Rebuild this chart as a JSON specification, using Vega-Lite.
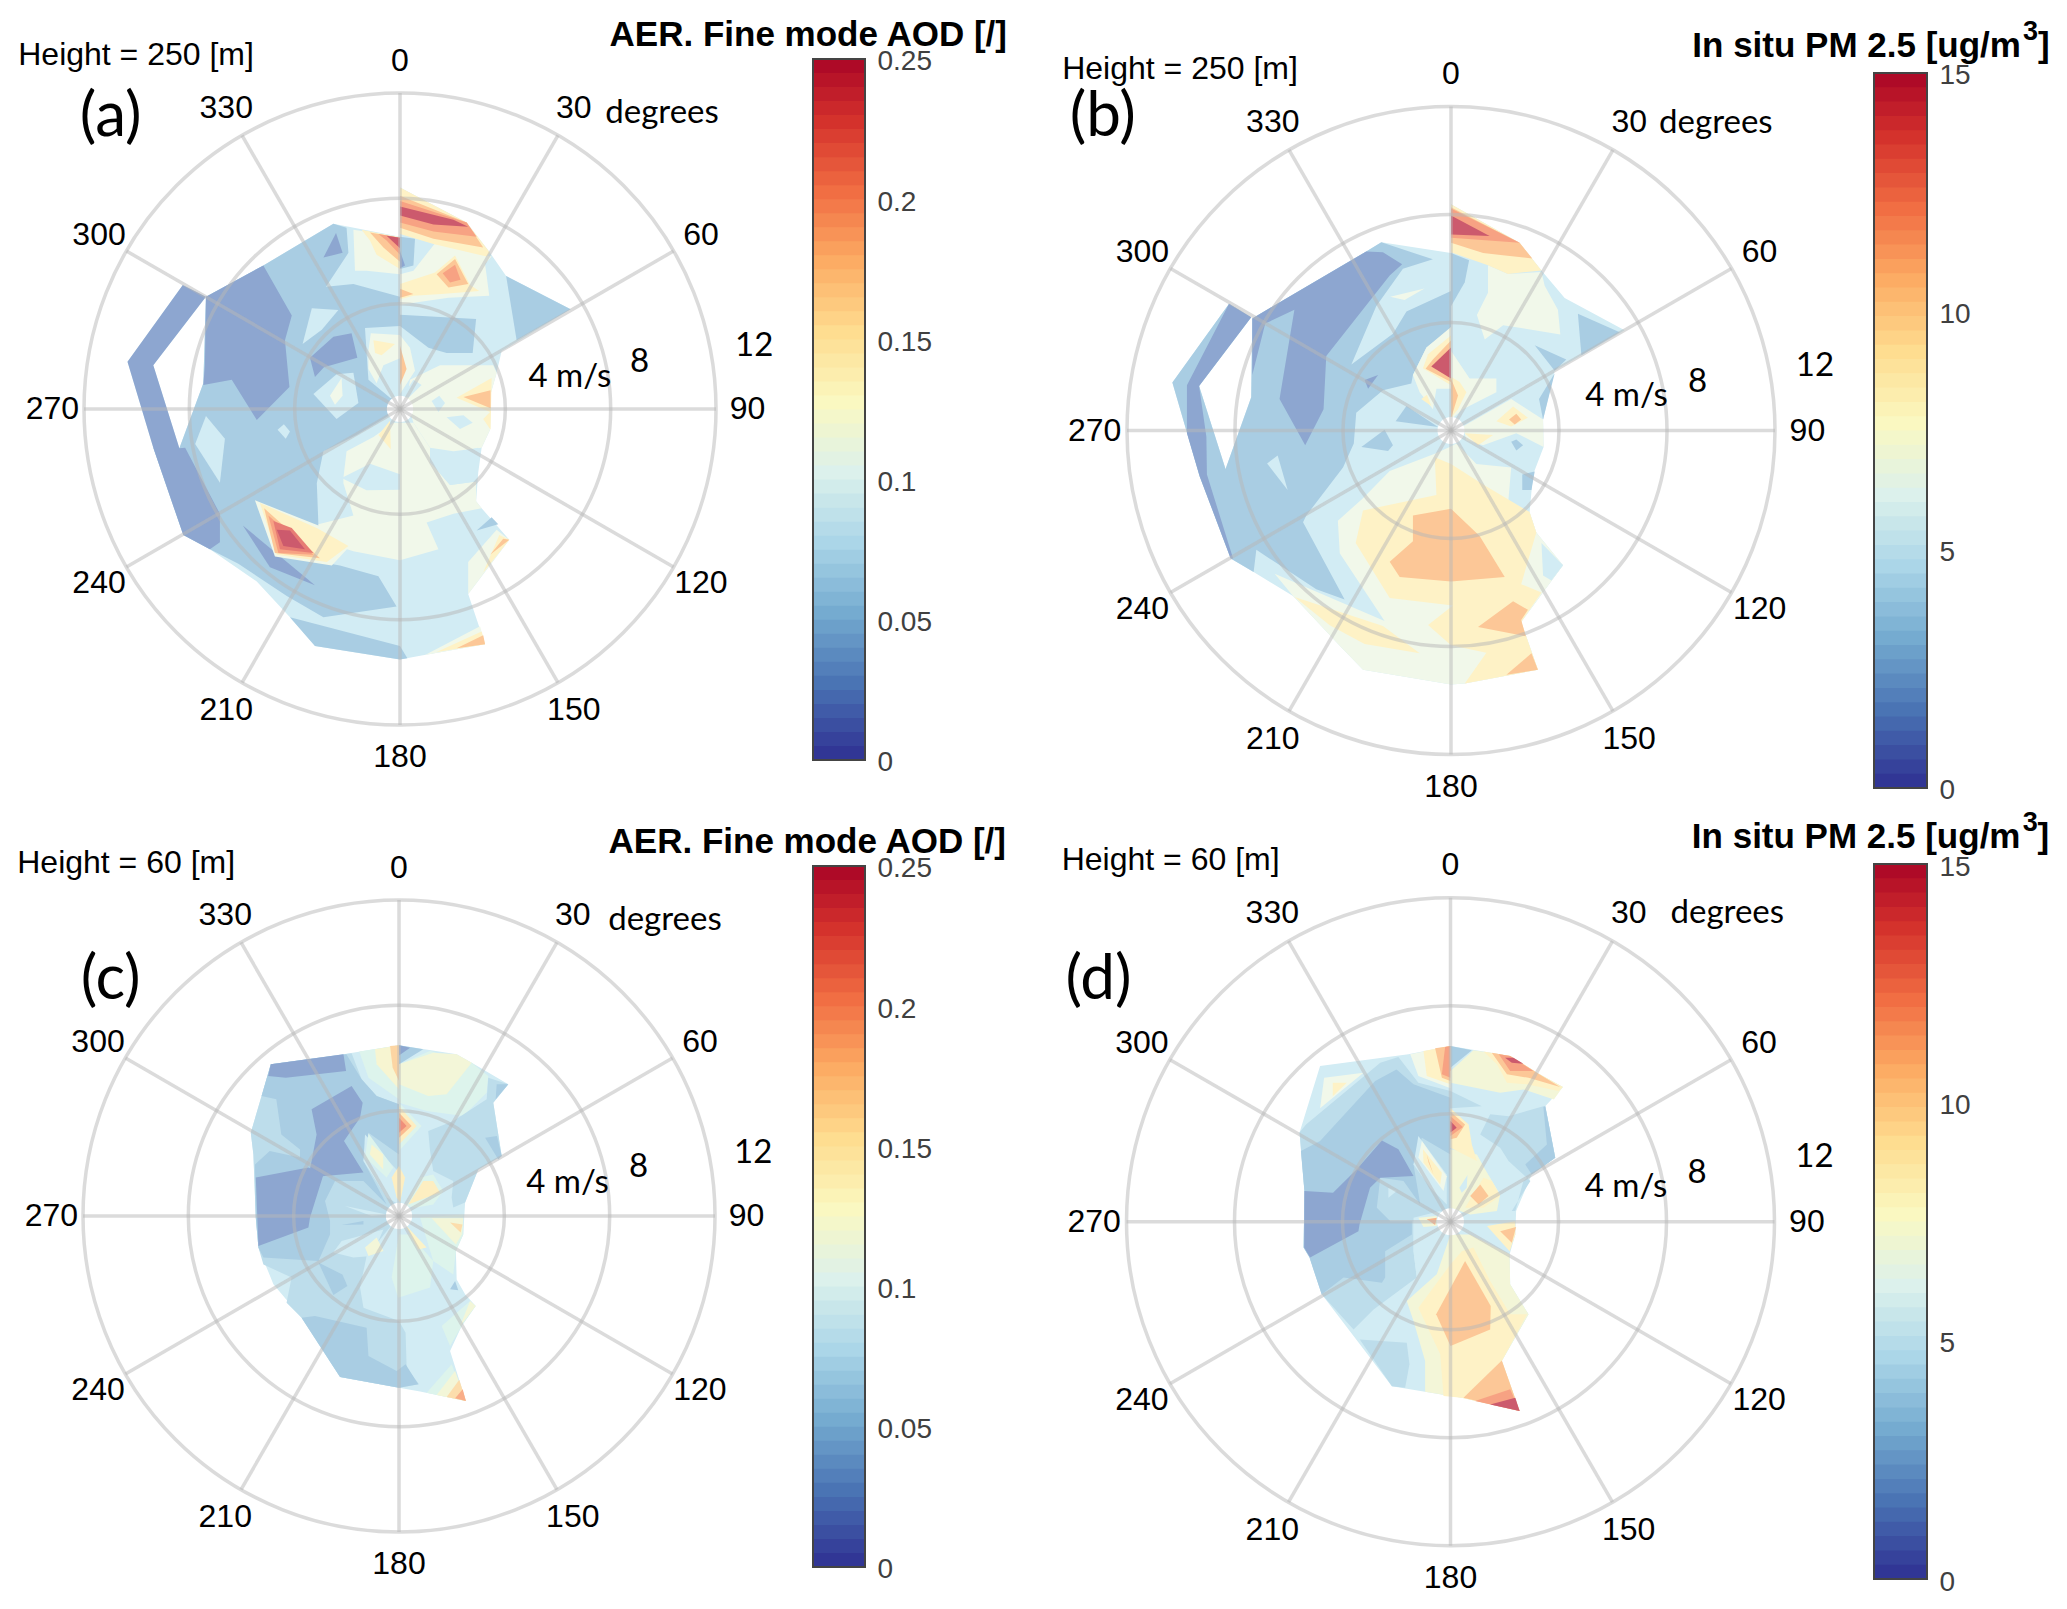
{"$schema":"https://vega.github.io/schema/vega-lite/v6.json","padding":0,"background":"white","columns":4,"spacing":0,"bounds":"flush","config":{"view":{"stroke":null},"text":{"font":"Liberation Sans"}},"resolve":{"scale":{"color":"independent","size":"independent","y":"independent","x":"independent"}},
"datasets":{
"spokes":[{"type":"Feature","geometry":{"type":"LineString","coordinates":[[0,0],[0,12]]}},{"type":"Feature","geometry":{"type":"LineString","coordinates":[[0,0],[6,10.39]]}},{"type":"Feature","geometry":{"type":"LineString","coordinates":[[0,0],[10.39,6]]}},{"type":"Feature","geometry":{"type":"LineString","coordinates":[[0,0],[12,0]]}},{"type":"Feature","geometry":{"type":"LineString","coordinates":[[0,0],[10.39,-6]]}},{"type":"Feature","geometry":{"type":"LineString","coordinates":[[0,0],[6,-10.39]]}},{"type":"Feature","geometry":{"type":"LineString","coordinates":[[0,0],[0,-12]]}},{"type":"Feature","geometry":{"type":"LineString","coordinates":[[0,0],[-6,-10.39]]}},{"type":"Feature","geometry":{"type":"LineString","coordinates":[[0,0],[-10.39,-6]]}},{"type":"Feature","geometry":{"type":"LineString","coordinates":[[0,0],[-12,0]]}},{"type":"Feature","geometry":{"type":"LineString","coordinates":[[0,0],[-10.39,6]]}},{"type":"Feature","geometry":{"type":"LineString","coordinates":[[0,0],[-6,10.39]]}}],
"rings":[{"u":0,"v":0,"r":4},{"u":0,"v":0,"r":8},{"u":0,"v":0,"r":12}],
"hub":[{"u":0,"v":0,"r":0.5}],
"angles":[{"u":0,"v":13.2,"t":"0"},{"u":6.6,"v":11.43,"t":"30"},{"u":11.43,"v":6.6,"t":"60"},{"u":13.2,"v":0,"t":"90"},{"u":11.43,"v":-6.6,"t":"120"},{"u":6.6,"v":-11.43,"t":"150"},{"u":0,"v":-13.2,"t":"180"},{"u":-6.6,"v":-11.43,"t":"210"},{"u":-11.43,"v":-6.6,"t":"240"},{"u":-13.2,"v":0,"t":"270"},{"u":-11.43,"v":6.6,"t":"300"},{"u":-6.6,"v":11.43,"t":"330"}],
"cbA":[{"lo":0,"hi":0.005},{"lo":0.005,"hi":0.01},{"lo":0.01,"hi":0.015},{"lo":0.015,"hi":0.02},{"lo":0.02,"hi":0.025},{"lo":0.025,"hi":0.03},{"lo":0.03,"hi":0.035},{"lo":0.035,"hi":0.04},{"lo":0.04,"hi":0.045},{"lo":0.045,"hi":0.05},{"lo":0.05,"hi":0.055},{"lo":0.055,"hi":0.06},{"lo":0.06,"hi":0.065},{"lo":0.065,"hi":0.07},{"lo":0.07,"hi":0.075},{"lo":0.075,"hi":0.08},{"lo":0.08,"hi":0.085},{"lo":0.085,"hi":0.09},{"lo":0.09,"hi":0.095},{"lo":0.095,"hi":0.1},{"lo":0.1,"hi":0.105},{"lo":0.105,"hi":0.11},{"lo":0.11,"hi":0.115},{"lo":0.115,"hi":0.12},{"lo":0.12,"hi":0.125},{"lo":0.125,"hi":0.13},{"lo":0.13,"hi":0.135},{"lo":0.135,"hi":0.14},{"lo":0.14,"hi":0.145},{"lo":0.145,"hi":0.15},{"lo":0.15,"hi":0.155},{"lo":0.155,"hi":0.16},{"lo":0.16,"hi":0.165},{"lo":0.165,"hi":0.17},{"lo":0.17,"hi":0.175},{"lo":0.175,"hi":0.18},{"lo":0.18,"hi":0.185},{"lo":0.185,"hi":0.19},{"lo":0.19,"hi":0.195},{"lo":0.195,"hi":0.2},{"lo":0.2,"hi":0.205},{"lo":0.205,"hi":0.21},{"lo":0.21,"hi":0.215},{"lo":0.215,"hi":0.22},{"lo":0.22,"hi":0.225},{"lo":0.225,"hi":0.23},{"lo":0.23,"hi":0.235},{"lo":0.235,"hi":0.24},{"lo":0.24,"hi":0.245},{"lo":0.245,"hi":0.25}],
"cbP":[{"lo":0,"hi":0.3},{"lo":0.3,"hi":0.6},{"lo":0.6,"hi":0.9},{"lo":0.9,"hi":1.2},{"lo":1.2,"hi":1.5},{"lo":1.5,"hi":1.8},{"lo":1.8,"hi":2.1},{"lo":2.1,"hi":2.4},{"lo":2.4,"hi":2.7},{"lo":2.7,"hi":3},{"lo":3,"hi":3.3},{"lo":3.3,"hi":3.6},{"lo":3.6,"hi":3.9},{"lo":3.9,"hi":4.2},{"lo":4.2,"hi":4.5},{"lo":4.5,"hi":4.8},{"lo":4.8,"hi":5.1},{"lo":5.1,"hi":5.4},{"lo":5.4,"hi":5.7},{"lo":5.7,"hi":6},{"lo":6,"hi":6.3},{"lo":6.3,"hi":6.6},{"lo":6.6,"hi":6.9},{"lo":6.9,"hi":7.2},{"lo":7.2,"hi":7.5},{"lo":7.5,"hi":7.8},{"lo":7.8,"hi":8.1},{"lo":8.1,"hi":8.4},{"lo":8.4,"hi":8.7},{"lo":8.7,"hi":9},{"lo":9,"hi":9.3},{"lo":9.3,"hi":9.6},{"lo":9.6,"hi":9.9},{"lo":9.9,"hi":10.2},{"lo":10.2,"hi":10.5},{"lo":10.5,"hi":10.8},{"lo":10.8,"hi":11.1},{"lo":11.1,"hi":11.4},{"lo":11.4,"hi":11.7},{"lo":11.7,"hi":12},{"lo":12,"hi":12.3},{"lo":12.3,"hi":12.6},{"lo":12.6,"hi":12.9},{"lo":12.9,"hi":13.2},{"lo":13.2,"hi":13.5},{"lo":13.5,"hi":13.8},{"lo":13.8,"hi":14.1},{"lo":14.1,"hi":14.4},{"lo":14.4,"hi":14.7},{"lo":14.7,"hi":15}],
"pa":[
{"type":"Feature","v":0.0875,"geometry":{"type":"Polygon","coordinates":[[[0,8.41],[2.53,7.08],[3.42,5.93],[4.03,5.05],[6.48,3.79],[3.86,2.2],[3.67,1.38],[3.44,0.57],[3.42,-0.79],[3.1,-1.47],[2.97,-2.42],[2.89,-3.5],[3.1,-3.77],[4.15,-4.97],[2.59,-7.03],[3.23,-8.93],[0.82,-9.36],[0,-9.51],[-3.23,-9],[-4.18,-7.91],[-5.44,-6.55],[-7.22,-5.33],[-8.23,-4.79],[-9.37,-1.47],[-10.35,1.79],[-8.25,4.71],[-7.37,4.26],[-9.37,1.66],[-8.38,-1.49],[-7.47,0.98],[-7.37,4.26],[-5.19,5.45],[-2.53,7.04],[0,6.54],[0,8.41]]]}},
{"type":"Feature","v":0.0625,"geometry":{"type":"Polygon","coordinates":[[[-2.53,7.04],[-2.03,6.88],[-1.96,5.93],[-2.81,4.64],[-1.77,4.75],[0,4.26],[0,0],[-1.65,-0.99],[-2.91,-1.6],[-3.16,-2.82],[-3.1,-4.38],[-3.04,-5.81],[-2.28,-5.94],[-0.82,-6.35],[-0.13,-7.5],[-2.91,-7.91],[-4.3,-7.1],[-6.14,-5.88],[-7.22,-5.33],[-8.23,-4.79],[-9.37,-1.47],[-8.38,-1.49],[-7.47,0.98],[-7.37,4.26],[-5.19,5.45],[-2.53,7.04]]]}},
{"type":"Feature","v":0.0625,"geometry":{"type":"Polygon","coordinates":[[[0,3.58],[2.89,3.42],[2.76,2.13],[1.77,2.13],[1.08,2.33],[0,3.15],[0,3.58]]]}},
{"type":"Feature","v":0.0625,"geometry":{"type":"Polygon","coordinates":[[[4.03,5.05],[6.48,3.79],[4.43,2.61],[4.03,5.05]]]}},
{"type":"Feature","v":0.0625,"geometry":{"type":"Polygon","coordinates":[[[-3.23,-9],[-4.18,-7.91],[0,-9],[0.28,-9.47],[0,-9.51],[-3.23,-9]]]}},
{"type":"Feature","v":0.0375,"geometry":{"type":"Polygon","coordinates":[[[-10.35,1.79],[-8.25,4.71],[-7.37,4.26],[-9.37,1.66],[-8.38,-1.49],[-8.16,-1.47],[-6.84,-3.98],[-6.84,-5.06],[-7.22,-5.33],[-8.23,-4.79],[-9.37,-1.47],[-10.35,1.79]]]}},
{"type":"Feature","v":0.0375,"geometry":{"type":"Polygon","coordinates":[[[-7.37,4.26],[-5.19,5.45],[-4.11,3.55],[-4.37,2.61],[-4.2,0.84],[-5.44,-0.42],[-6.39,1.11],[-7.47,0.91],[-7.41,1.66],[-7.37,4.26]]]}},
{"type":"Feature","v":0.0375,"geometry":{"type":"Polygon","coordinates":[[[-2.91,5.75],[-2.43,6.68],[-2.18,5.93],[-2.91,5.75]]]}},
{"type":"Feature","v":0.0375,"geometry":{"type":"Polygon","coordinates":[[[-3.42,1.95],[-2.53,2.74],[-1.84,2.88],[-1.62,1.95],[-2.89,1.59],[-3.23,1.22],[-3.42,1.95]]]}},
{"type":"Feature","v":0.0375,"geometry":{"type":"Polygon","coordinates":[[[-5.97,-4.42],[-3.23,-6.69],[-4.94,-6.01],[-5.97,-4.42]]]}},
{"type":"Feature","v":0.0875,"geometry":{"type":"Polygon","coordinates":[[[-3.35,3.83],[-2.34,3.76],[-2.97,3.01],[-3.7,2.47],[-3.35,3.83]]]}},
{"type":"Feature","v":0.0875,"geometry":{"type":"Polygon","coordinates":[[[-3.29,0.57],[-2.41,1.32],[-1.77,1.38],[-1.58,0.23],[-2.41,-0.38],[-3.29,0.57]]]}},
{"type":"Feature","v":0.1125,"geometry":{"type":"Polygon","coordinates":[[[-2.66,0.5],[-2.22,1.18],[-2.18,0.5],[-2.47,0.16],[-2.66,0.5]]]}},
{"type":"Feature","v":0.0875,"geometry":{"type":"Polygon","coordinates":[[[-7.78,-1.33],[-7.37,-0.27],[-6.65,-1.13],[-6.84,-2.8],[-7.78,-1.33]]]}},
{"type":"Feature","v":0.0875,"geometry":{"type":"Polygon","coordinates":[[[-4.65,-0.79],[-4.41,-0.58],[-4.18,-0.85],[-4.34,-1.13],[-4.65,-0.79]]]}},
{"type":"Feature","v":0.0875,"geometry":{"type":"Polygon","coordinates":[[[-1.33,3.08],[0,3.15],[0,0.3],[-0.38,0.43],[-1.2,1.11],[-1.33,3.08]]]}},
{"type":"Feature","v":0.1125,"geometry":{"type":"Polygon","coordinates":[[[-1.2,2.2],[-1.11,2.88],[0,2.81],[0.38,2.33],[0.57,1.45],[0,0.57],[0,1.93],[-0.63,1.66],[-0.89,0.98],[-1.2,1.52],[-1.2,2.2]]]}},
{"type":"Feature","v":0.1375,"geometry":{"type":"Polygon","coordinates":[[[-1.01,2.61],[-0.19,2.47],[-0.7,2.04],[-0.95,2.13],[-1.01,2.61]]]}},
{"type":"Feature","v":0.1625,"geometry":{"type":"Polygon","coordinates":[[[0,2.4],[0.25,1.52],[0,0.91],[0,2.4]]]}},
{"type":"Feature","v":0.1125,"geometry":{"type":"Polygon","coordinates":[[[0.38,1.11],[1.52,1.66],[3.54,1.66],[3.67,1.38],[3.44,0.57],[3.42,-0.79],[3.1,-1.47],[2.03,-1.6],[1.14,-1.47],[0.51,-0.52],[0.25,0.3],[0.38,1.11]]]}},
{"type":"Feature","v":0.1375,"geometry":{"type":"Polygon","coordinates":[[[2.15,0.43],[3.48,1.18],[3.44,-0.79],[3.16,-0.38],[3.42,-0.11],[2.15,0.43]]]}},
{"type":"Feature","v":0.1625,"geometry":{"type":"Polygon","coordinates":[[[2.41,0.46],[3.44,0.71],[3.44,0.03],[2.41,0.46]]]}},
{"type":"Feature","v":0.0875,"geometry":{"type":"Polygon","coordinates":[[[1.2,0.3],[1.49,0.5],[1.71,0.23],[1.46,-0.11],[1.2,0.3]]]}},
{"type":"Feature","v":0.0875,"geometry":{"type":"Polygon","coordinates":[[[1.77,-0.31],[2.41,-0.24],[2.76,-0.52],[2.28,-0.76],[1.77,-0.31]]]}},
{"type":"Feature","v":0.0875,"geometry":{"type":"Polygon","coordinates":[[[0.15,0.57],[0.51,1.11],[0.82,0.91],[0.32,0.43],[0.15,0.57]]]}},
{"type":"Feature","v":0.1125,"geometry":{"type":"Polygon","coordinates":[[[-2.15,-2.62],[-2.03,-1.6],[-1.01,-1.06],[-0.25,-0.52],[0.51,-0.52],[1.14,-1.47],[1.14,-2.01],[1.9,-2.89],[2.89,-2.75],[2.89,-3.5],[3.1,-3.77],[2.03,-3.98],[1.01,-4.31],[1.46,-5.33],[0,-5.74],[-1.77,-5.4],[-3.04,-4.99],[-3.1,-4.38],[-1.77,-4.04],[-2.15,-2.82],[-2.15,-2.62]]]}},
{"type":"Feature","v":0.0875,"geometry":{"type":"Polygon","coordinates":[[[-2.22,-2.62],[-1.14,-2.08],[0,-2.48],[0,-3.07],[-1.27,-3.09],[-2.22,-2.62]]]}},
{"type":"Feature","v":0.0875,"geometry":{"type":"Polygon","coordinates":[[[1.14,-1.53],[2.03,-1.67],[2.97,-1.47],[2.91,-2.75],[1.9,-2.89],[1.14,-2.01],[1.14,-1.53]]]}},
{"type":"Feature","v":0.1375,"geometry":{"type":"Polygon","coordinates":[[[-0.82,-0.99],[-0.38,-0.45],[-0.35,-1.53],[-0.82,-0.99]]]}},
{"type":"Feature","v":0.1125,"geometry":{"type":"Polygon","coordinates":[[[2.59,-7.03],[2.59,-5.81],[3.67,-4.59],[4.15,-4.97],[2.59,-7.03]]]}},
{"type":"Feature","v":0.1375,"geometry":{"type":"Polygon","coordinates":[[[3.16,-6.21],[3.77,-4.79],[4.15,-4.97],[3.16,-6.21]]]}},
{"type":"Feature","v":0.1625,"geometry":{"type":"Polygon","coordinates":[[[3.42,-5.54],[3.92,-4.93],[4.15,-4.97],[3.42,-5.54]]]}},
{"type":"Feature","v":0.0625,"geometry":{"type":"Polygon","coordinates":[[[2.91,-4.61],[3.48,-4.11],[3.73,-4.38],[2.91,-4.61]]]}},
{"type":"Feature","v":0.1125,"geometry":{"type":"Polygon","coordinates":[[[0.95,-9.34],[3.04,-8.25],[3.23,-8.93],[0.95,-9.34]]]}},
{"type":"Feature","v":0.1375,"geometry":{"type":"Polygon","coordinates":[[[1.39,-9.23],[3.1,-8.45],[3.23,-8.93],[1.39,-9.23]]]}},
{"type":"Feature","v":0.1625,"geometry":{"type":"Polygon","coordinates":[[[2.15,-9.09],[3.16,-8.59],[3.23,-8.93],[2.15,-9.09]]]}},
{"type":"Feature","v":0.1125,"geometry":{"type":"Polygon","coordinates":[[[-5.51,-3.47],[-3.1,-4.42],[-1.9,-5.2],[-2.59,-5.94],[-4.75,-5.6],[-5.51,-3.47]]]}},
{"type":"Feature","v":0.1375,"geometry":{"type":"Polygon","coordinates":[[[-5.32,-3.57],[-3.16,-4.52],[-1.96,-5.2],[-2.78,-5.81],[-4.68,-5.54],[-5.32,-3.57]]]}},
{"type":"Feature","v":0.1625,"geometry":{"type":"Polygon","coordinates":[[[-5.16,-3.77],[-3.04,-5.67],[-4.75,-5.47],[-5.16,-3.77]]]}},
{"type":"Feature","v":0.1875,"geometry":{"type":"Polygon","coordinates":[[[-5,-4.04],[-3.29,-5.54],[-4.62,-5.47],[-5,-4.04]]]}},
{"type":"Feature","v":0.2125,"geometry":{"type":"Polygon","coordinates":[[[-4.81,-4.25],[-4.11,-4.52],[-3.29,-5.47],[-4.56,-5.33],[-4.81,-4.25]]]}},
{"type":"Feature","v":0.2375,"geometry":{"type":"Polygon","coordinates":[[[-4.68,-4.59],[-4.18,-4.61],[-3.61,-5.33],[-4.43,-5.2],[-4.68,-4.59]]]}},
{"type":"Feature","v":0.1125,"geometry":{"type":"Polygon","coordinates":[[[-1.77,6.81],[0,6.54],[0,5.12],[-1.27,5.25],[-1.71,5.25],[-1.77,6.81]]]}},
{"type":"Feature","v":0.1375,"geometry":{"type":"Polygon","coordinates":[[[-1.46,6.81],[0,6.51],[0,5.32],[-0.89,5.86],[-1.14,6.4],[-1.46,6.81]]]}},
{"type":"Feature","v":0.1625,"geometry":{"type":"Polygon","coordinates":[[[-1.14,6.7],[0,6.5],[0,5.59],[-0.63,6.13],[-1.14,6.7]]]}},
{"type":"Feature","v":0.1875,"geometry":{"type":"Polygon","coordinates":[[[-0.82,6.65],[0,6.5],[0,5.86],[-0.51,6.4],[-0.82,6.65]]]}},
{"type":"Feature","v":0.2375,"geometry":{"type":"Polygon","coordinates":[[[-0.51,6.58],[0,6.5],[0,6.11],[-0.51,6.58]]]}},
{"type":"Feature","v":0.1125,"geometry":{"type":"Polygon","coordinates":[[[1.33,6.3],[3.48,5.79],[3.23,5.52],[3.39,4.3],[1.84,4.23],[0,3.96],[0,5.12],[0.51,5.25],[1.33,6.3]]]}},
{"type":"Feature","v":0.1375,"geometry":{"type":"Polygon","coordinates":[[[0,4.75],[1.33,5.18],[2.09,5.83],[2.66,4.71],[3.01,4.48],[1.58,4.37],[0.51,4.3],[0,4.17],[0,4.75]]]}},
{"type":"Feature","v":0.1625,"geometry":{"type":"Polygon","coordinates":[[[1.39,5.12],[2.09,5.7],[2.59,4.75],[1.84,4.61],[1.39,5.12]]]}},
{"type":"Feature","v":0.1875,"geometry":{"type":"Polygon","coordinates":[[[1.62,5.16],[2.09,5.48],[2.3,4.91],[1.9,4.8],[1.62,5.16]]]}},
{"type":"Feature","v":0.1625,"geometry":{"type":"Polygon","coordinates":[[[0,4.57],[0.51,4.37],[0,4.23],[0,4.57]]]}},
{"type":"Feature","v":0.0625,"geometry":{"type":"Polygon","coordinates":[[[0,6.54],[0.57,6.47],[0.51,5.45],[0,5.32],[0,6.54]]]}},
{"type":"Feature","v":0.0375,"geometry":{"type":"Polygon","coordinates":[[[0,6],[0.19,5.45],[0,5.35],[0,6]]]}},
{"type":"Feature","v":0.1375,"geometry":{"type":"Polygon","coordinates":[[[0,8.41],[2.53,7.08],[3.42,5.93],[3.29,5.79],[1.27,6.27],[0,6.65],[0,8.41]]]}},
{"type":"Feature","v":0.1625,"geometry":{"type":"Polygon","coordinates":[[[0,8.1],[2.53,7.08],[3.16,6.13],[1.27,6.47],[0,6.88],[0,8.1]]]}},
{"type":"Feature","v":0.1875,"geometry":{"type":"Polygon","coordinates":[[[0,7.9],[2.53,7.08],[2.91,6.54],[1.27,6.74],[0,7.08],[0,7.9]]]}},
{"type":"Feature","v":0.2375,"geometry":{"type":"Polygon","coordinates":[[[0,7.69],[2.03,7.19],[2.59,6.92],[1.27,7.01],[0,7.35],[0,7.69]]]}}
],
"pb":[
{"type":"Feature","v":5.25,"geometry":{"type":"Polygon","coordinates":[[[0,8.38],[2.54,6.95],[3.35,5.93],[4.21,4.91],[6.43,3.71],[3.84,2.21],[3.41,0.41],[3.43,-0.61],[3.04,-1.63],[2.91,-3.02],[3.16,-3.78],[4.15,-4.99],[2.6,-7.09],[3.22,-8.86],[0.51,-9.37],[0,-9.41],[-3.26,-8.86],[-4.06,-8.04],[-5.85,-6.13],[-7.31,-5.24],[-8.16,-4.74],[-9.31,-1.69],[-10.32,1.78],[-8.22,4.69],[-7.4,4.19],[-9.33,1.65],[-8.35,-1.43],[-7.4,1.23],[-7.36,4.15],[-3.14,6.63],[-2.58,6.97],[0,6.57],[0,8.38]]]}},
{"type":"Feature","v":3.75,"geometry":{"type":"Polygon","coordinates":[[[-2.58,6.97],[-0.67,6.34],[-1.78,5.99],[-2.77,4.6],[-3.69,2.44],[-2.15,3.58],[-1.65,4.41],[0,5.17],[0,3.77],[-0.91,3.07],[-1.41,2.06],[-1.47,1.74],[-2.52,1.49],[-3.51,0.66],[-3.6,-0.48],[-4,-1.37],[-5.36,-3.15],[-5.48,-3.4],[-3.94,-6.26],[-4.99,-5.88],[-7.21,-4.42],[-7.31,-5.24],[-8.16,-4.74],[-9.31,-1.69],[-10.32,1.78],[-8.22,4.69],[-7.4,4.19],[-9.33,1.65],[-8.35,-1.43],[-7.4,1.23],[-7.36,4.15],[-3.14,6.63],[-2.58,6.97]]]}},
{"type":"Feature","v":2.25,"geometry":{"type":"Polygon","coordinates":[[[-9.78,1.68],[-8.22,4.69],[-7.4,4.19],[-9.33,1.65],[-9.06,-0.23],[-9.04,-1.63],[-8.07,-4.74],[-8.16,-4.74],[-9.31,-1.69],[-9.78,-0.1],[-9.78,1.68]]]}},
{"type":"Feature","v":2.25,"geometry":{"type":"Polygon","coordinates":[[[-7.36,4.15],[-3.14,6.63],[-2.52,6.6],[-1.81,6.16],[-2.27,5.74],[-4.62,2.76],[-4.72,0.79],[-5.4,-0.55],[-6.35,1.17],[-5.8,4.47],[-6.88,3.96],[-7.36,2.06],[-7.36,4.15]]]}},
{"type":"Feature","v":2.25,"geometry":{"type":"Polygon","coordinates":[[[-3.2,1.87],[-2.7,2.06],[-3.07,1.55],[-3.2,1.87]]]}},
{"type":"Feature","v":5.25,"geometry":{"type":"Polygon","coordinates":[[[-6.81,-1.22],[-6.42,-0.93],[-6.05,-2.2],[-6.81,-1.22]]]}},
{"type":"Feature","v":6.75,"geometry":{"type":"Polygon","coordinates":[[[-2.25,4.95],[-0.98,5.26],[-1.72,4.83],[-2.25,4.95]]]}},
{"type":"Feature","v":3.75,"geometry":{"type":"Polygon","coordinates":[[[-3.32,-0.61],[-2.46,0.03],[-2.15,-0.55],[-2.33,-0.76],[-3.32,-0.61]]]}},
{"type":"Feature","v":3.75,"geometry":{"type":"Polygon","coordinates":[[[-2.05,0.34],[-1.65,0.91],[-0.48,0.13],[-2.05,0.34]]]}},
{"type":"Feature","v":3.75,"geometry":{"type":"Polygon","coordinates":[[[0,6.57],[0.67,6.31],[0.51,5.49],[0,4.6],[0,6.57]]]}},
{"type":"Feature","v":6.75,"geometry":{"type":"Polygon","coordinates":[[[1.37,6.12],[2.11,5.8],[3.35,5.87],[3.47,5.36],[3.96,4.47],[4.05,3.56],[1.93,3.9],[1.25,3.37],[0.96,4.28],[1.37,5.1],[1.37,6.12]]]}},
{"type":"Feature","v":8.25,"geometry":{"type":"Polygon","coordinates":[[[0,8.38],[2.54,6.95],[3.35,5.93],[2.11,5.8],[1.37,6.12],[0,6.6],[0,8.38]]]}},
{"type":"Feature","v":9.75,"geometry":{"type":"Polygon","coordinates":[[[0,8.27],[2.54,6.95],[3.01,6.37],[1.19,6.57],[0,6.95],[0,8.27]]]}},
{"type":"Feature","v":11.25,"geometry":{"type":"Polygon","coordinates":[[[0,8.22],[2.54,6.95],[0,7.14],[0,8.22]]]}},
{"type":"Feature","v":14.25,"geometry":{"type":"Polygon","coordinates":[[[0,7.96],[1.43,7.2],[0,7.26],[0,7.96]]]}},
{"type":"Feature","v":3.75,"geometry":{"type":"Polygon","coordinates":[[[4.7,4.32],[6.25,3.64],[4.83,2.79],[4.7,4.32]]]}},
{"type":"Feature","v":3.75,"geometry":{"type":"Polygon","coordinates":[[[3.1,3.16],[4.27,2.63],[3.84,2.21],[3.1,3.16]]]}},
{"type":"Feature","v":3.75,"geometry":{"type":"Polygon","coordinates":[[[3.84,2.12],[3.41,0.41],[3.26,1.17],[3.84,2.12]]]}},
{"type":"Feature","v":6.75,"geometry":{"type":"Polygon","coordinates":[[[-0.05,-0.61],[-0.6,-0.86],[-2.27,-1.5],[-3.26,-2.51],[-4.19,-3.34],[-4.12,-4.55],[-2.46,-7.06],[-6.53,-5.31],[-5.85,-6.13],[-4.06,-8.04],[-3.26,-8.86],[0,-9.41],[0.51,-9.37],[3.22,-8.86],[2.6,-7.09],[4.15,-4.99],[3.16,-3.78],[2.91,-3.02],[2.11,-2.77],[2.23,-1.37],[0.94,-1.24],[0.2,-0.48],[-0.05,-0.61]]]}},
{"type":"Feature","v":5.25,"geometry":{"type":"Polygon","coordinates":[[[3.35,-4.17],[4.15,-4.99],[3.72,-5.56],[3.41,-5.37],[3.35,-4.17]]]}},
{"type":"Feature","v":8.25,"geometry":{"type":"Polygon","coordinates":[[[-0.6,-0.99],[-0.54,-2.39],[-3.26,-2.96],[-3.53,-4.17],[-2.27,-6.2],[0.07,-6.48],[-0.85,-7.2],[0,-7.95],[1.31,-8.23],[0.51,-9.37],[3.22,-8.86],[2.6,-7.09],[3.35,-6],[2.6,-5.69],[3.16,-3.78],[2.91,-3.02],[1.19,-2],[0,-1.24],[-0.6,-0.99]]]}},
{"type":"Feature","v":8.25,"geometry":{"type":"Polygon","coordinates":[[[-5.79,-6.17],[-2.52,-7.24],[-1.16,-8.25],[-3.2,-7.91],[-4.49,-7.21],[-5.79,-6.17]]]}},
{"type":"Feature","v":9.75,"geometry":{"type":"Polygon","coordinates":[[[-1.41,-3.15],[0,-2.9],[1.06,-3.91],[1.99,-5.43],[0,-5.59],[-1.9,-5.43],[-2.27,-4.86],[-1.41,-4.1],[-1.41,-3.15]]]}},
{"type":"Feature","v":9.75,"geometry":{"type":"Polygon","coordinates":[[[1,-7.28],[2.3,-6.32],[2.85,-6.64],[2.6,-7.02],[2.77,-7.62],[1,-7.28]]]}},
{"type":"Feature","v":9.75,"geometry":{"type":"Polygon","coordinates":[[[2.05,-9.05],[2.98,-8.25],[3.22,-8.86],[2.05,-9.05]]]}},
{"type":"Feature","v":6.75,"geometry":{"type":"Polygon","coordinates":[[[0,3.83],[-0.91,3.07],[-1.41,2.06],[-1.16,1.42],[-0.67,0.79],[-0.54,1.55],[0,1.55],[0,3.83]]]}},
{"type":"Feature","v":8.25,"geometry":{"type":"Polygon","coordinates":[[[0,3.52],[-0.85,2.82],[-1.04,2.31],[0,1.68],[0,3.52]]]}},
{"type":"Feature","v":9.75,"geometry":{"type":"Polygon","coordinates":[[[0,3.33],[-0.67,2.63],[-0.94,2.29],[0,1.8],[0,3.33]]]}},
{"type":"Feature","v":14.25,"geometry":{"type":"Polygon","coordinates":[[[0,3.07],[-0.73,2.37],[0,1.93],[0,3.07]]]}},
{"type":"Feature","v":6.75,"geometry":{"type":"Polygon","coordinates":[[[0,2.95],[0.69,1.93],[1.68,1.93],[1.68,1.42],[0.44,0.79],[0,0.41],[0,2.95]]]}},
{"type":"Feature","v":8.25,"geometry":{"type":"Polygon","coordinates":[[[0,1.99],[0.32,1.8],[0.57,1.42],[0.26,0.79],[0,0.47],[0,1.99]]]}},
{"type":"Feature","v":9.75,"geometry":{"type":"Polygon","coordinates":[[[0,1.93],[0.26,1.3],[0.01,0.47],[0,1.93]]]}},
{"type":"Feature","v":6.75,"geometry":{"type":"Polygon","coordinates":[[[0.44,0.15],[2.23,1.17],[3.41,0.41],[3.43,-0.61],[2.42,-0.1],[1.19,-0.55],[0.57,-0.36],[0.44,0.15]]]}},
{"type":"Feature","v":8.25,"geometry":{"type":"Polygon","coordinates":[[[1.68,0.34],[2.3,0.89],[2.85,0.47],[2.23,0.15],[1.68,0.34]]]}},
{"type":"Feature","v":9.75,"geometry":{"type":"Polygon","coordinates":[[[2.15,0.41],[2.42,0.62],[2.6,0.41],[2.36,0.22],[2.15,0.41]]]}},
{"type":"Feature","v":8.25,"geometry":{"type":"Polygon","coordinates":[[[0.51,-0.1],[1.56,-0.17],[1,-0.55],[0.51,-0.1]]]}},
{"type":"Feature","v":3.75,"geometry":{"type":"Polygon","coordinates":[[[2.23,-0.42],[2.42,-0.33],[2.67,-0.55],[2.42,-0.74],[2.23,-0.42]]]}},
{"type":"Feature","v":3.75,"geometry":{"type":"Polygon","coordinates":[[[2.64,-1.63],[3.1,-1.52],[2.98,-2.2],[2.64,-2.2],[2.64,-1.63]]]}},
{"type":"Feature","v":8.25,"geometry":{"type":"Polygon","coordinates":[[[-1.1,1.17],[-0.89,1.32],[-0.73,0.91],[-1.1,1.17]]]}}
],
"pc":[
{"type":"Feature","v":0.0875,"geometry":{"type":"Polygon","coordinates":[[[0,6.49],[2.19,6.14],[2.76,5.82],[4.15,5],[3.58,4.3],[3.9,2.28],[3.01,1.77],[2.51,0.51],[2.44,-0.7],[2.16,-1.33],[2.19,-2.41],[2.51,-2.97],[2.91,-3.42],[2.38,-4.18],[1.94,-5.13],[2.54,-7.03],[0.8,-6.67],[0,-6.52],[-2.24,-6.11],[-3.7,-3.86],[-4.77,-2.59],[-5.34,-1.2],[-5.44,-0.06],[-5.53,2.34],[-5.63,3.16],[-5.22,4.56],[-4.87,5.76],[-2.11,6.14],[0,6.49]]]}},
{"type":"Feature","v":0.075,"geometry":{"type":"Polygon","coordinates":[[[-4.87,5.76],[-1.8,6.18],[-1.42,5.19],[-0.85,4.56],[0,4.24],[0,0],[-1.23,-1.52],[-1.48,-2.72],[-1.35,-3.48],[0,-3.99],[0.25,-4.43],[0.29,-5.76],[0.76,-6.39],[0,-6.52],[-2.24,-6.11],[-3.7,-3.86],[-4.27,-3.29],[-4.08,-2.34],[-5.15,-1.84],[-5.34,-1.2],[-5.44,-0.06],[-5.53,2.34],[-5.63,3.16],[-5.22,4.56],[-4.87,5.76]]]}},
{"type":"Feature","v":0.0625,"geometry":{"type":"Polygon","coordinates":[[[-4.87,5.76],[-2,6.14],[-1.42,5.19],[-0.85,4.56],[0,4.24],[0,2.34],[-1.16,3.16],[-1.35,2.09],[-0.47,0.44],[-1.35,1.33],[-2.43,1.33],[-2.81,0.57],[-2.62,-0.19],[-2.62,-0.7],[-3.06,-1.71],[-5.15,-1.58],[-5.34,-1.2],[-5.44,-0.06],[-5.47,1.96],[-4.91,2.47],[-3.76,2.22],[-3.76,2.53],[-4.47,3.1],[-4.66,4.43],[-5.22,4.56],[-4.87,5.76]]]}},
{"type":"Feature","v":0.0375,"geometry":{"type":"Polygon","coordinates":[[[-4.87,5.76],[-2.11,6.14],[-2.01,5.51],[-4.3,5.25],[-4.97,5.32],[-4.87,5.76]]]}},
{"type":"Feature","v":0.0375,"geometry":{"type":"Polygon","coordinates":[[[-3.32,4.05],[-1.8,4.94],[-1.38,4.3],[-1.48,3.73],[-2.09,2.85],[-1.35,1.65],[-3.44,1.46],[-3.13,3.1],[-3.32,4.05]]]}},
{"type":"Feature","v":0.0375,"geometry":{"type":"Polygon","coordinates":[[[-5.44,1.46],[-3.44,1.84],[-2.87,1.58],[-3.38,-0.06],[-3.44,-0.44],[-5.34,-1.14],[-5.44,1.46]]]}},
{"type":"Feature","v":0.0625,"geometry":{"type":"Polygon","coordinates":[[[-3.06,-1.77],[-2.15,-2.22],[-1.96,-2.66],[-2.49,-3],[-3.06,-1.77]]]}},
{"type":"Feature","v":0.0625,"geometry":{"type":"Polygon","coordinates":[[[-3.7,-3.86],[-3.19,-3.8],[-1.23,-4.24],[-1.16,-5.32],[-0.09,-5.89],[0.25,-5.63],[0.73,-6.39],[0,-6.52],[-2.24,-6.11],[-3.7,-3.86]]]}},
{"type":"Feature","v":0.0875,"geometry":{"type":"Polygon","coordinates":[[[-1.29,3.1],[0,1.65],[0,0.44],[-0.47,0.7],[-1.35,2.09],[-1.29,3.1]]]}},
{"type":"Feature","v":0.1,"geometry":{"type":"Polygon","coordinates":[[[-1.16,3.13],[-0.22,1.84],[-0.47,1.46],[-1.29,2.22],[-1.16,3.13]]]}},
{"type":"Feature","v":0.13,"geometry":{"type":"Polygon","coordinates":[[[-1.04,2.72],[-0.6,2.34],[-0.6,1.77],[-1.11,2.34],[-1.04,2.72]]]}},
{"type":"Feature","v":0.1,"geometry":{"type":"Polygon","coordinates":[[[-1.51,6.25],[-1.16,5.25],[0,4.43],[0,6.49],[-1.51,6.25]]]}},
{"type":"Feature","v":0.13,"geometry":{"type":"Polygon","coordinates":[[[-0.91,6.33],[-0.85,5.76],[0,4.81],[0,6.49],[-0.91,6.33]]]}},
{"type":"Feature","v":0.155,"geometry":{"type":"Polygon","coordinates":[[[-0.34,6.46],[-0.24,5.63],[0,5.13],[0,6.49],[-0.34,6.46]]]}},
{"type":"Feature","v":0.1,"geometry":{"type":"Polygon","coordinates":[[[0,5.76],[1.18,6.27],[2.76,5.82],[3.39,5.32],[3.33,4.68],[2.44,3.8],[1.05,3.99],[0,4.3],[0,5.76]]]}},
{"type":"Feature","v":0.125,"geometry":{"type":"Polygon","coordinates":[[[0,5.76],[1.3,6.2],[2.19,6.14],[2.76,5.82],[1.81,4.62],[1.11,4.56],[0,5],[0,5.76]]]}},
{"type":"Feature","v":0.0625,"geometry":{"type":"Polygon","coordinates":[[[0,6.49],[0.92,6.33],[0,5.76],[0,6.49]]]}},
{"type":"Feature","v":0.0375,"geometry":{"type":"Polygon","coordinates":[[[0,6.49],[0.42,6.39],[0,6.1],[0,6.49]]]}},
{"type":"Feature","v":0.075,"geometry":{"type":"Polygon","coordinates":[[[1.11,3.23],[2.06,3.61],[3.33,4.43],[3.39,5.25],[4.15,5],[3.58,4.3],[3.9,2.28],[3.01,1.77],[2.51,0.51],[2.06,0.32],[2,0.7],[2.06,1.33],[1.3,1.71],[1.18,2.47],[1.11,3.23]]]}},
{"type":"Feature","v":0.0625,"geometry":{"type":"Polygon","coordinates":[[[3.27,2.97],[3.72,3.04],[3.9,2.28],[3.77,2.15],[3.27,2.97]]]}},
{"type":"Feature","v":0.0625,"geometry":{"type":"Polygon","coordinates":[[[3.71,5],[4.15,5],[3.67,4.43],[3.71,5]]]}},
{"type":"Feature","v":0.1,"geometry":{"type":"Polygon","coordinates":[[[0,4.3],[0.86,3.42],[0,2.47],[0,4.3]]]}},
{"type":"Feature","v":0.14,"geometry":{"type":"Polygon","coordinates":[[[0,4.18],[0.67,3.42],[0,2.72],[0,4.18]]]}},
{"type":"Feature","v":0.17,"geometry":{"type":"Polygon","coordinates":[[[0,3.92],[0.48,3.42],[0,2.97],[0,3.92]]]}},
{"type":"Feature","v":0.2,"geometry":{"type":"Polygon","coordinates":[[[0,3.73],[0.29,3.42],[0,3.16],[0,3.73]]]}},
{"type":"Feature","v":0.14,"geometry":{"type":"Polygon","coordinates":[[[-0.28,1.46],[0,1.9],[0.23,1.46],[0.04,0.51],[-0.09,0.7],[-0.28,1.46]]]}},
{"type":"Feature","v":0.1,"geometry":{"type":"Polygon","coordinates":[[[0.23,0.38],[0.8,1.46],[1.3,1.58],[1.68,0.95],[1.3,0.44],[0.67,0.32],[0.23,0.38]]]}},
{"type":"Feature","v":0.14,"geometry":{"type":"Polygon","coordinates":[[[0.35,0.44],[0.92,1.33],[1.3,1.33],[1.56,0.89],[1.05,0.7],[0.35,0.44]]]}},
{"type":"Feature","v":0.1,"geometry":{"type":"Polygon","coordinates":[[[0.8,-0.06],[2.44,0.06],[2.44,-0.7],[2.16,-1.33],[2.06,-2.22],[1.3,-1.71],[0.8,-0.06]]]}},
{"type":"Feature","v":0.125,"geometry":{"type":"Polygon","coordinates":[[[1.24,-0.09],[2.44,-0.09],[2.38,-0.7],[2.16,-1.08],[1.24,-0.09]]]}},
{"type":"Feature","v":0.15,"geometry":{"type":"Polygon","coordinates":[[[1.94,-0.25],[2.41,-0.32],[2.34,-0.63],[1.94,-0.25]]]}},
{"type":"Feature","v":0.1,"geometry":{"type":"Polygon","coordinates":[[[-0.28,-2.34],[-0.03,-3.1],[1.18,-2.72],[1.3,-1.71],[0.42,-0.7],[0,-0.7],[-0.28,-2.34]]]}},
{"type":"Feature","v":0.135,"geometry":{"type":"Polygon","coordinates":[[[0.23,-0.32],[1.05,-1.2],[0.73,-1.27],[0.23,-0.32]]]}},
{"type":"Feature","v":0.0875,"geometry":{"type":"Polygon","coordinates":[[[-2.5,-1.39],[-2.18,-0.95],[-0.59,-0.51],[-1.04,-1.52],[-1.73,-1.58],[-2.5,-1.39]]]}},
{"type":"Feature","v":0.125,"geometry":{"type":"Polygon","coordinates":[[[-1.29,-1.2],[-0.85,-0.82],[-0.59,-1.33],[-1.16,-1.52],[-1.29,-1.2]]]}},
{"type":"Feature","v":0.0625,"geometry":{"type":"Polygon","coordinates":[[[-2.18,-0.34],[-1.35,-0.19],[-1.35,-0.32],[-2.18,-0.34]]]}},
{"type":"Feature","v":0.0875,"geometry":{"type":"Polygon","coordinates":[[[-2.05,0.38],[-0.47,0.06],[-1.04,0],[-2.05,0.38]]]}},
{"type":"Feature","v":0.1,"geometry":{"type":"Polygon","coordinates":[[[1.62,-4.18],[2.7,-3.23],[2.91,-3.42],[2.38,-4.18],[1.94,-4.94],[1.62,-4.18]]]}},
{"type":"Feature","v":0.125,"geometry":{"type":"Polygon","coordinates":[[[2.32,-4.18],[2.7,-3.23],[2.91,-3.42],[2.32,-4.18]]]}},
{"type":"Feature","v":0.0625,"geometry":{"type":"Polygon","coordinates":[[[1.94,-2.78],[2.13,-2.47],[2.25,-2.82],[1.94,-2.78]]]}},
{"type":"Feature","v":0.1,"geometry":{"type":"Polygon","coordinates":[[[1.05,-6.71],[2,-5.63],[2.54,-7.03],[1.05,-6.71]]]}},
{"type":"Feature","v":0.125,"geometry":{"type":"Polygon","coordinates":[[[1.43,-6.8],[2.13,-5.89],[2.54,-7.03],[1.43,-6.8]]]}},
{"type":"Feature","v":0.15,"geometry":{"type":"Polygon","coordinates":[[[1.81,-6.87],[2.29,-6.22],[2.54,-7.03],[1.81,-6.87]]]}},
{"type":"Feature","v":0.18,"geometry":{"type":"Polygon","coordinates":[[[2.13,-6.92],[2.42,-6.58],[2.54,-7.03],[2.13,-6.92]]]}}
],
"pd":[
{"type":"Feature","v":5.25,"geometry":{"type":"Polygon","coordinates":[[[0,6.51],[2.21,6.14],[3.2,5.52],[4.16,4.99],[3.51,4.28],[3.88,2.37],[3.01,1.75],[2.43,0.4],[2.4,-0.47],[2.19,-1.21],[2.21,-2.32],[2.89,-3.43],[1.9,-5.16],[2.56,-7.01],[0.42,-6.52],[0,-6.46],[-2.17,-6.09],[-4.77,-2.69],[-5.22,-1.33],[-5.44,-0.96],[-5.41,1.14],[-5.59,3.3],[-4.83,5.77],[-1.56,6.2],[0,6.51]]]}},
{"type":"Feature","v":4.5,"geometry":{"type":"Polygon","coordinates":[[[-5.59,3.3],[-5.35,3.6],[-2.6,5.89],[-1.93,6.1],[-1.19,5.15],[0,4.84],[1.16,4.28],[0,4.2],[0,0.02],[-1.37,0.02],[-1.37,-1.09],[-1.25,-2.07],[-2.85,-3.25],[-3.59,-3.99],[-4.77,-2.69],[-5.22,-1.33],[-5.44,-0.96],[-5.41,1.14],[-5.59,3.3]]]}},
{"type":"Feature","v":3.75,"geometry":{"type":"Polygon","coordinates":[[[-5.54,2.62],[-4.83,2.99],[-2.79,5.21],[-2,5.64],[-1.37,5.09],[0,4.59],[0,2.49],[-1.06,3.11],[-1.37,2.12],[-1.12,0.64],[-1.74,1.51],[-2.6,1.63],[-2.73,0.52],[-2.23,0.02],[-1.43,0.02],[-1.43,-0.47],[-2.42,-1.09],[-2.42,-2.07],[-2.54,-2.26],[-3.96,-2.07],[-4.77,-2.69],[-5.22,-1.33],[-5.44,-0.96],[-5.41,1.14],[-5.54,2.62]]]}},
{"type":"Feature","v":2.25,"geometry":{"type":"Polygon","coordinates":[[[-5.41,1.14],[-4.35,1.07],[-3.47,1.94],[-2.54,3.01],[-1.93,2.68],[-1.37,1.69],[-2.6,1.63],[-2.98,1.26],[-3.37,-0.1],[-3.41,-0.35],[-5.2,-1.33],[-5.42,-0.96],[-5.41,1.14]]]}},
{"type":"Feature","v":6.75,"geometry":{"type":"Polygon","coordinates":[[[-4.83,4.2],[-4.68,5.33],[-3.22,5.52],[-4.83,4.2]]]}},
{"type":"Feature","v":8.25,"geometry":{"type":"Polygon","coordinates":[[[-4.36,4.65],[-4.36,5.15],[-3.84,5.15],[-4.36,4.65]]]}},
{"type":"Feature","v":6.75,"geometry":{"type":"Polygon","coordinates":[[[-1.49,6.2],[-1.19,5.4],[0,4.94],[0,6.51],[-1.49,6.2]]]}},
{"type":"Feature","v":8.25,"geometry":{"type":"Polygon","coordinates":[[[-1,6.32],[-0.88,5.4],[0,5.09],[0,6.51],[-1,6.32]]]}},
{"type":"Feature","v":9.75,"geometry":{"type":"Polygon","coordinates":[[[-0.57,6.42],[-0.32,5.33],[0,5.21],[0,6.51],[-0.57,6.42]]]}},
{"type":"Feature","v":11.25,"geometry":{"type":"Polygon","coordinates":[[[-0.2,6.47],[-0.32,5.46],[0,5.33],[0,6.51],[-0.2,6.47]]]}},
{"type":"Feature","v":7.5,"geometry":{"type":"Polygon","coordinates":[[[0,5.58],[0.85,6.35],[2.21,6.14],[3.2,5.52],[4.16,4.99],[3.83,4.53],[2.7,4.9],[1.84,4.78],[0,5.15],[0,5.58]]]}},
{"type":"Feature","v":3.75,"geometry":{"type":"Polygon","coordinates":[[[0,6.51],[0.79,6.35],[0,5.7],[0,6.51]]]}},
{"type":"Feature","v":8.25,"geometry":{"type":"Polygon","coordinates":[[[1.22,6.3],[2.21,6.14],[3.2,5.52],[4.16,4.99],[4,4.84],[2.83,5.09],[2.09,5.15],[1.72,5.83],[1.22,6.3]]]}},
{"type":"Feature","v":9.75,"geometry":{"type":"Polygon","coordinates":[[[1.53,6.26],[2.21,6.14],[3.2,5.52],[4.06,4.99],[2.89,5.33],[2.09,5.46],[1.53,6.26]]]}},
{"type":"Feature","v":11.25,"geometry":{"type":"Polygon","coordinates":[[[1.79,6.2],[2.21,6.14],[3.07,5.58],[2.21,5.58],[1.79,6.2]]]}},
{"type":"Feature","v":14.25,"geometry":{"type":"Polygon","coordinates":[[[2.02,6.07],[2.33,6.07],[2.7,5.85],[2.27,5.89],[2.02,6.07]]]}},
{"type":"Feature","v":4.5,"geometry":{"type":"Polygon","coordinates":[[[1.1,3.23],[1.47,3.98],[2.15,3.91],[3.44,4.28],[3.51,4.28],[3.88,2.37],[3.01,1.75],[2.7,1.51],[2.4,0.4],[2.27,0.4],[2.96,1.51],[2.15,2.25],[1.84,2.74],[1.1,3.23]]]}},
{"type":"Feature","v":3.75,"geometry":{"type":"Polygon","coordinates":[[[3.44,4.25],[3.51,4.28],[3.88,2.37],[3.01,1.75],[2.77,2.12],[3.57,2.86],[3.44,4.25]]]}},
{"type":"Feature","v":7.5,"geometry":{"type":"Polygon","coordinates":[[[0,2.68],[0.98,2.49],[1.28,1.94],[1.84,1.01],[1.72,0.4],[0.73,0.27],[0,0.52],[0,2.68]]]}},
{"type":"Feature","v":8.25,"geometry":{"type":"Polygon","coordinates":[[[0,4.2],[0.67,3.6],[0.79,2.86],[0.98,2.25],[0.11,2.68],[0,2.74],[0,4.2]]]}},
{"type":"Feature","v":9.75,"geometry":{"type":"Polygon","coordinates":[[[0,4.07],[0.54,3.6],[0.23,3.11],[0,3.05],[0,4.07]]]}},
{"type":"Feature","v":11.25,"geometry":{"type":"Polygon","coordinates":[[[0,3.91],[0.46,3.51],[0,3.17],[0,3.91]]]}},
{"type":"Feature","v":14.25,"geometry":{"type":"Polygon","coordinates":[[[0,3.73],[0.23,3.48],[0,3.3],[0,3.73]]]}},
{"type":"Feature","v":5.25,"geometry":{"type":"Polygon","coordinates":[[[0.33,1.26],[0.63,1.73],[0.6,1.26],[0.42,1.07],[0.33,1.26]]]}},
{"type":"Feature","v":8.25,"geometry":{"type":"Polygon","coordinates":[[[0.54,0.52],[1.22,1.63],[1.53,1.51],[1.84,0.95],[1.22,0.52],[0.54,0.52]]]}},
{"type":"Feature","v":9.75,"geometry":{"type":"Polygon","coordinates":[[[0.73,0.95],[1.1,1.38],[1.41,0.95],[1.04,0.64],[0.73,0.95]]]}},
{"type":"Feature","v":5.25,"geometry":{"type":"Polygon","coordinates":[[[-1.19,3.17],[-0.14,1.75],[-0.14,0.64],[-0.75,1.26],[-1.37,2.12],[-1.19,3.17]]]}},
{"type":"Feature","v":6.75,"geometry":{"type":"Polygon","coordinates":[[[-1.06,2.99],[-0.14,1.68],[-0.26,1.14],[-1.19,2.37],[-1.06,2.99]]]}},
{"type":"Feature","v":8.25,"geometry":{"type":"Polygon","coordinates":[[[-1.02,2.68],[-0.32,1.81],[-0.38,1.38],[-1,2.19],[-1.02,2.68]]]}},
{"type":"Feature","v":9.75,"geometry":{"type":"Polygon","coordinates":[[[-0.88,2.49],[-0.63,1.75],[-0.81,2.19],[-0.88,2.49]]]}},
{"type":"Feature","v":5.25,"geometry":{"type":"Polygon","coordinates":[[[-1.37,0.15],[-0.38,0.4],[0,0],[-0.26,-0.72],[-1.25,-2.07],[-1.37,-1.09],[-1.37,0.15]]]}},
{"type":"Feature","v":7.5,"geometry":{"type":"Polygon","coordinates":[[[-1.19,0.15],[-0.51,0.21],[-0.51,-0.16],[-1,-0.2],[-1.19,0.15]]]}},
{"type":"Feature","v":10.5,"geometry":{"type":"Polygon","coordinates":[[[-0.88,0.09],[-0.51,0.15],[-0.57,-0.12],[-0.88,0.09]]]}},
{"type":"Feature","v":5.25,"geometry":{"type":"Polygon","coordinates":[[[-2.3,1.26],[-1.99,1.14],[-2.3,0.89],[-2.3,1.26]]]}},
{"type":"Feature","v":7.5,"geometry":{"type":"Polygon","coordinates":[[[-1.62,-2.94],[-0.51,-1.95],[0,-0.47],[0.73,-0.47],[2.19,-1.21],[2.21,-2.32],[2.89,-3.43],[1.9,-5.16],[2.56,-7.01],[0.42,-6.52],[-0.94,-6.3],[-0.94,-5.16],[-1.37,-3.68],[-1.62,-2.94]]]}},
{"type":"Feature","v":8.25,"geometry":{"type":"Polygon","coordinates":[[[-1.19,-3.19],[0,-1.58],[0.42,-1.09],[0.85,-0.96],[1.47,-2.2],[2.21,-3.43],[2.83,-3.43],[1.9,-5.16],[2.56,-7.01],[0.42,-6.52],[-0.26,-6.46],[-0.38,-4.91],[-1.19,-3.19]]]}},
{"type":"Feature","v":9.75,"geometry":{"type":"Polygon","coordinates":[[[-0.53,-3.43],[0.54,-1.46],[1.49,-3.12],[1.47,-3.99],[0,-4.6],[-0.53,-3.43]]]}},
{"type":"Feature","v":9.75,"geometry":{"type":"Polygon","coordinates":[[[0.48,-6.52],[1.9,-5.14],[2.56,-7.01],[0.48,-6.52]]]}},
{"type":"Feature","v":11.25,"geometry":{"type":"Polygon","coordinates":[[[0.91,-6.64],[2.21,-6.21],[2.56,-7.01],[0.91,-6.64]]]}},
{"type":"Feature","v":14.25,"geometry":{"type":"Polygon","coordinates":[[[1.47,-6.77],[2.4,-6.52],[2.56,-7.01],[1.47,-6.77]]]}},
{"type":"Feature","v":8.25,"geometry":{"type":"Polygon","coordinates":[[[1.35,-0.16],[2.4,0.02],[2.4,-0.47],[2.19,-1.09],[1.35,-0.16]]]}},
{"type":"Feature","v":9.75,"geometry":{"type":"Polygon","coordinates":[[[1.84,-0.35],[2.43,-0.2],[2.27,-0.78],[1.84,-0.35]]]}},
{"type":"Feature","v":4.5,"geometry":{"type":"Polygon","coordinates":[[[-3.36,-4.36],[-1.62,-4.48],[-1.52,-5.28],[-1.68,-6.15],[-2.17,-6.09],[-3.36,-4.36]]]}}
]
},
"concat":[
{"width":813,"height":804,"projection":{"type":"identity","reflectY":true},"layer":[
{"data":{"name":"pa"},"mark":{"type":"geoshape","stroke":null},"encoding":{"color":{"field":"v","type":"quantitative","legend":null,"scale":{"domain":[0.0375,0.0625,0.0875,0.1125,0.1375,0.1625,0.1875,0.2125,0.2375],"range":["#8da6d0","#a9cde3","#d2ecf4","#f1f8ea","#fef2c6","#fcc797","#f7a283","#e77c74","#cc5a6d"]}}}},
{"data":{"values":[{"type":"Feature","geometry":{"type":"LineString","coordinates":[[-15.192,-15.04],[15.685,15.496]]}}]},"mark":{"type":"geoshape","filled":false,"stroke":"white","strokeOpacity":0},"encoding":{}},
{"encoding":{"x":{"field":"u","type":"quantitative","axis":null,"scale":{"domain":[-15.192,15.685],"nice":false,"zero":false}},"y":{"field":"v","type":"quantitative","axis":null,"scale":{"domain":[-15.04,15.496],"nice":false,"zero":false}}},"layer":[
{"data":{"name":"hub"},"mark":{"type":"point","filled":true,"fill":"white","stroke":null,"opacity":1},"encoding":{"size":{"field":"r","type":"quantitative","legend":null,"scale":{"type":"pow","exponent":2,"domain":[0,12],"range":[0,399424]}}}}]},
{"data":{"name":"spokes"},"mark":{"type":"geoshape","filled":false,"stroke":"#b8b8b8","strokeWidth":3.5,"strokeOpacity":0.5},"encoding":{}},
{"encoding":{"x":{"field":"u","type":"quantitative","axis":null,"scale":{"domain":[-15.192,15.685],"nice":false,"zero":false}},"y":{"field":"v","type":"quantitative","axis":null,"scale":{"domain":[-15.04,15.496],"nice":false,"zero":false}}},"layer":[
{"data":{"name":"rings"},"mark":{"type":"point","filled":false,"stroke":"#b8b8b8","strokeWidth":3.5,"opacity":0.5},"encoding":{"size":{"field":"r","type":"quantitative","legend":null,"scale":{"type":"pow","exponent":2,"domain":[0,12],"range":[0,399424]}}}},
{"data":{"name":"angles"},"mark":{"type":"text","fontSize":32,"font":"Liberation Sans","color":"black","baseline":"middle"},"encoding":{"text":{"field":"t"}}},
{"data":{"values":[{"u":6.45,"v":1.2,"t":"4 m/s"},{"u":9.1,"v":1.8,"t":"8"},{"u":13.45,"v":2.4,"t":"12"},{"u":9.95,"v":11.25,"t":"degrees"}]},"mark":{"type":"text","fontSize":33,"font":"Lato","color":"black","baseline":"middle"},"encoding":{"text":{"field":"t"}}},
{"data":{"values":[{"u":-14.5,"v":13.45,"t":"Height = 250 [m]"}]},"mark":{"type":"text","fontSize":32,"align":"left","baseline":"middle","font":"Liberation Sans","color":"black"},"encoding":{"text":{"field":"t"}}},
{"data":{"values":[{"u":-10.99,"v":11.09,"t":"(a)"}]},"mark":{"type":"text","fontSize":62,"baseline":"middle","font":"Lato","color":"black"},"encoding":{"text":{"field":"t"}}},
{"data":{"values":[{"u":23.05,"v":14.2,"t":"AER. Fine mode AOD [/]"}]},"mark":{"type":"text","fontSize":35,"fontWeight":"bold","align":"right","baseline":"middle","font":"Liberation Sans","color":"black"},"encoding":{"text":{"field":"t"}}}
]}
]},
{"width":52,"height":804,"layer":[
{"data":{"name":"cbA"},"mark":{"type":"rect","y2Offset":-1},"encoding":{"y":{"field":"lo","type":"quantitative","scale":{"domain":[-0.01605,0.27068],"nice":false,"zero":false},"axis":{"orient":"right","values":[0,0.05,0.1,0.15,0.2,0.25],"format":"~g","domain":false,"grid":false,"title":null,"tickSize":-7,"tickColor":"#333333","labelPadding":19,"labelOffset":3,"labelFontSize":28,"labelColor":"#404040","labelFont":"Liberation Sans"}},"y2":{"field":"hi"},"color":{"field":"lo","type":"quantitative","legend":null,"scale":{"scheme":"redyellowblue","reverse":true,"domain":[0,0.25]}}}},
{"data":{"values":[{"lo":0,"hi":0.25}]},"mark":{"type":"rect","fill":null,"stroke":"#444444","strokeWidth":2},"encoding":{"y":{"field":"lo","type":"quantitative"},"y2":{"field":"hi"}}}
]},
{"width":1009,"height":804,"projection":{"type":"identity","reflectY":true},"layer":[
{"data":{"name":"pb"},"mark":{"type":"geoshape","stroke":null},"encoding":{"color":{"field":"v","type":"quantitative","legend":null,"scale":{"domain":[2.25,3.75,5.25,6.75,8.25,9.75,11.25,12.75,14.25],"range":["#8da6d0","#a9cde3","#d2ecf4","#f1f8ea","#fef2c6","#fcc797","#f7a283","#e77c74","#cc5a6d"]}}}},
{"data":{"values":[{"type":"Feature","geometry":{"type":"LineString","coordinates":[[-21.704,-13.87],[15.667,15.907]]}}]},"mark":{"type":"geoshape","filled":false,"stroke":"white","strokeOpacity":0},"encoding":{}},
{"encoding":{"x":{"field":"u","type":"quantitative","axis":null,"scale":{"domain":[-21.704,15.667],"nice":false,"zero":false}},"y":{"field":"v","type":"quantitative","axis":null,"scale":{"domain":[-13.87,15.907],"nice":false,"zero":false}}},"layer":[
{"data":{"name":"hub"},"mark":{"type":"point","filled":true,"fill":"white","stroke":null,"opacity":1},"encoding":{"size":{"field":"r","type":"quantitative","legend":null,"scale":{"type":"pow","exponent":2,"domain":[0,12],"range":[0,419904]}}}}]},
{"data":{"name":"spokes"},"mark":{"type":"geoshape","filled":false,"stroke":"#b8b8b8","strokeWidth":3.5,"strokeOpacity":0.5},"encoding":{}},
{"encoding":{"x":{"field":"u","type":"quantitative","axis":null,"scale":{"domain":[-21.704,15.667],"nice":false,"zero":false}},"y":{"field":"v","type":"quantitative","axis":null,"scale":{"domain":[-13.87,15.907],"nice":false,"zero":false}}},"layer":[
{"data":{"name":"rings"},"mark":{"type":"point","filled":false,"stroke":"#b8b8b8","strokeWidth":3.5,"opacity":0.5},"encoding":{"size":{"field":"r","type":"quantitative","legend":null,"scale":{"type":"pow","exponent":2,"domain":[0,12],"range":[0,419904]}}}},
{"data":{"name":"angles"},"mark":{"type":"text","fontSize":32,"font":"Liberation Sans","color":"black","baseline":"middle"},"encoding":{"text":{"field":"t"}}},
{"data":{"values":[{"u":6.5,"v":1.27,"t":"4  m/s"},{"u":9.13,"v":1.8,"t":"8"},{"u":13.48,"v":2.4,"t":"12"},{"u":9.81,"v":11.38,"t":"degrees"}]},"mark":{"type":"text","fontSize":33,"font":"Lato","color":"black","baseline":"middle"},"encoding":{"text":{"field":"t"}}},
{"data":{"values":[{"u":-14.4,"v":13.38,"t":"Height = 250 [m]"}]},"mark":{"type":"text","fontSize":32,"align":"left","baseline":"middle","font":"Liberation Sans","color":"black"},"encoding":{"text":{"field":"t"}}},
{"data":{"values":[{"u":-12.9,"v":11.62,"t":"(b)"}]},"mark":{"type":"text","fontSize":62,"baseline":"middle","font":"Lato","color":"black"},"encoding":{"text":{"field":"t"}}},
{"data":{"values":[{"u":21.11,"v":14.24,"t":"In situ PM 2.5 [ug/m"}]},"mark":{"type":"text","fontSize":35,"fontWeight":"bold","align":"right","baseline":"middle","font":"Liberation Sans","color":"black"},"encoding":{"text":{"field":"t"}}},
{"data":{"values":[{"u":21.19,"v":14.76,"t":"3"}]},"mark":{"type":"text","fontSize":27,"fontWeight":"bold","align":"left","baseline":"middle","font":"Liberation Sans","color":"black"},"encoding":{"text":{"field":"t"}}},
{"data":{"values":[{"u":21.74,"v":14.24,"t":"]"}]},"mark":{"type":"text","fontSize":35,"fontWeight":"bold","align":"left","baseline":"middle","font":"Liberation Sans","color":"black"},"encoding":{"text":{"field":"t"}}}
]}
]},
{"width":53,"height":804,"layer":[
{"data":{"name":"cbP"},"mark":{"type":"rect","y2Offset":-1},"encoding":{"y":{"field":"lo","type":"quantitative","scale":{"domain":[-0.357,16.51],"nice":false,"zero":false},"axis":{"orient":"right","values":[0,5,10,15],"domain":false,"grid":false,"title":null,"tickSize":-7,"tickColor":"#333333","labelPadding":19,"labelOffset":3,"labelFontSize":28,"labelColor":"#404040","labelFont":"Liberation Sans"}},"y2":{"field":"hi"},"color":{"field":"lo","type":"quantitative","legend":null,"scale":{"scheme":"redyellowblue","reverse":true,"domain":[0,15]}}}},
{"data":{"values":[{"lo":0,"hi":15}]},"mark":{"type":"rect","fill":null,"stroke":"#444444","strokeWidth":2},"encoding":{"y":{"field":"lo","type":"quantitative"},"y2":{"field":"hi"}}}
]},
{"width":813,"height":804,"projection":{"type":"identity","reflectY":true},"layer":[
{"data":{"name":"pc"},"mark":{"type":"geoshape","stroke":null},"encoding":{"color":{"field":"v","type":"quantitative","legend":null,"scale":{"domain":[0.0375,0.0625,0.0875,0.1125,0.1375,0.1625,0.1875,0.2125,0.2375],"range":["#8da6d0","#a9cde3","#d2ecf4","#f1f8ea","#fef2c6","#fcc797","#f7a283","#e77c74","#cc5a6d"]}}}},
{"data":{"values":[{"type":"Feature","geometry":{"type":"LineString","coordinates":[[-15.154,-14.926],[15.723,15.61]]}}]},"mark":{"type":"geoshape","filled":false,"stroke":"white","strokeOpacity":0},"encoding":{}},
{"encoding":{"x":{"field":"u","type":"quantitative","axis":null,"scale":{"domain":[-15.154,15.723],"nice":false,"zero":false}},"y":{"field":"v","type":"quantitative","axis":null,"scale":{"domain":[-14.926,15.61],"nice":false,"zero":false}}},"layer":[
{"data":{"name":"hub"},"mark":{"type":"point","filled":true,"fill":"white","stroke":null,"opacity":1},"encoding":{"size":{"field":"r","type":"quantitative","legend":null,"scale":{"type":"pow","exponent":2,"domain":[0,12],"range":[0,399424]}}}}]},
{"data":{"name":"spokes"},"mark":{"type":"geoshape","filled":false,"stroke":"#b8b8b8","strokeWidth":3.5,"strokeOpacity":0.5},"encoding":{}},
{"encoding":{"x":{"field":"u","type":"quantitative","axis":null,"scale":{"domain":[-15.154,15.723],"nice":false,"zero":false}},"y":{"field":"v","type":"quantitative","axis":null,"scale":{"domain":[-14.926,15.61],"nice":false,"zero":false}}},"layer":[
{"data":{"name":"rings"},"mark":{"type":"point","filled":false,"stroke":"#b8b8b8","strokeWidth":3.5,"opacity":0.5},"encoding":{"size":{"field":"r","type":"quantitative","legend":null,"scale":{"type":"pow","exponent":2,"domain":[0,12],"range":[0,399424]}}}},
{"data":{"name":"angles"},"mark":{"type":"text","fontSize":32,"font":"Liberation Sans","color":"black","baseline":"middle"},"encoding":{"text":{"field":"t"}}},
{"data":{"values":[{"u":6.4,"v":1.25,"t":"4 m/s"},{"u":9.1,"v":1.85,"t":"8"},{"u":13.45,"v":2.4,"t":"12"},{"u":10.1,"v":11.25,"t":"degrees"}]},"mark":{"type":"text","fontSize":33,"font":"Lato","color":"black","baseline":"middle"},"encoding":{"text":{"field":"t"}}},
{"data":{"values":[{"u":-14.5,"v":13.4,"t":"Height = 60 [m]"}]},"mark":{"type":"text","fontSize":32,"align":"left","baseline":"middle","font":"Liberation Sans","color":"black"},"encoding":{"text":{"field":"t"}}},
{"data":{"values":[{"u":-10.95,"v":8.95,"t":"(c)"}]},"mark":{"type":"text","fontSize":62,"baseline":"middle","font":"Lato","color":"black"},"encoding":{"text":{"field":"t"}}},
{"data":{"values":[{"u":23.05,"v":14.2,"t":"AER. Fine mode AOD [/]"}]},"mark":{"type":"text","fontSize":35,"fontWeight":"bold","align":"right","baseline":"middle","font":"Liberation Sans","color":"black"},"encoding":{"text":{"field":"t"}}}
]}
]},
{"width":52,"height":804,"layer":[
{"data":{"name":"cbA"},"mark":{"type":"rect","y2Offset":-1},"encoding":{"y":{"field":"lo","type":"quantitative","scale":{"domain":[-0.01498,0.27175],"nice":false,"zero":false},"axis":{"orient":"right","values":[0,0.05,0.1,0.15,0.2,0.25],"format":"~g","domain":false,"grid":false,"title":null,"tickSize":-7,"tickColor":"#333333","labelPadding":19,"labelOffset":3,"labelFontSize":28,"labelColor":"#404040","labelFont":"Liberation Sans"}},"y2":{"field":"hi"},"color":{"field":"lo","type":"quantitative","legend":null,"scale":{"scheme":"redyellowblue","reverse":true,"domain":[0,0.25]}}}},
{"data":{"values":[{"lo":0,"hi":0.25}]},"mark":{"type":"rect","fill":null,"stroke":"#444444","strokeWidth":2},"encoding":{"y":{"field":"lo","type":"quantitative"},"y2":{"field":"hi"}}}
]},
{"width":1009,"height":804,"projection":{"type":"identity","reflectY":true},"layer":[
{"data":{"name":"pd"},"mark":{"type":"geoshape","stroke":null},"encoding":{"color":{"field":"v","type":"quantitative","legend":null,"scale":{"domain":[2.25,3.75,5.25,6.75,8.25,9.75,11.25,12.75,14.25],"range":["#8da6d0","#a9cde3","#d2ecf4","#f1f8ea","#fef2c6","#fcc797","#f7a283","#e77c74","#cc5a6d"]}}}},
{"data":{"values":[{"type":"Feature","geometry":{"type":"LineString","coordinates":[[-21.685,-14.344],[15.685,15.433]]}}]},"mark":{"type":"geoshape","filled":false,"stroke":"white","strokeOpacity":0},"encoding":{}},
{"encoding":{"x":{"field":"u","type":"quantitative","axis":null,"scale":{"domain":[-21.685,15.685],"nice":false,"zero":false}},"y":{"field":"v","type":"quantitative","axis":null,"scale":{"domain":[-14.344,15.433],"nice":false,"zero":false}}},"layer":[
{"data":{"name":"hub"},"mark":{"type":"point","filled":true,"fill":"white","stroke":null,"opacity":1},"encoding":{"size":{"field":"r","type":"quantitative","legend":null,"scale":{"type":"pow","exponent":2,"domain":[0,12],"range":[0,419904]}}}}]},
{"data":{"name":"spokes"},"mark":{"type":"geoshape","filled":false,"stroke":"#b8b8b8","strokeWidth":3.5,"strokeOpacity":0.5},"encoding":{}},
{"encoding":{"x":{"field":"u","type":"quantitative","axis":null,"scale":{"domain":[-21.685,15.685],"nice":false,"zero":false}},"y":{"field":"v","type":"quantitative","axis":null,"scale":{"domain":[-14.344,15.433],"nice":false,"zero":false}}},"layer":[
{"data":{"name":"rings"},"mark":{"type":"point","filled":false,"stroke":"#b8b8b8","strokeWidth":3.5,"opacity":0.5},"encoding":{"size":{"field":"r","type":"quantitative","legend":null,"scale":{"type":"pow","exponent":2,"domain":[0,12],"range":[0,419904]}}}},
{"data":{"name":"angles"},"mark":{"type":"text","fontSize":32,"font":"Liberation Sans","color":"black","baseline":"middle"},"encoding":{"text":{"field":"t"}}},
{"data":{"values":[{"u":6.5,"v":1.27,"t":"4  m/s"},{"u":9.13,"v":1.8,"t":"8"},{"u":13.48,"v":2.4,"t":"12"},{"u":10.25,"v":11.43,"t":"degrees"}]},"mark":{"type":"text","fontSize":33,"font":"Lato","color":"black","baseline":"middle"},"encoding":{"text":{"field":"t"}}},
{"data":{"values":[{"u":-14.4,"v":13.38,"t":"Height = 60 [m]"}]},"mark":{"type":"text","fontSize":32,"align":"left","baseline":"middle","font":"Liberation Sans","color":"black"},"encoding":{"text":{"field":"t"}}},
{"data":{"values":[{"u":-13.04,"v":8.94,"t":"(d)"}]},"mark":{"type":"text","fontSize":62,"baseline":"middle","font":"Lato","color":"black"},"encoding":{"text":{"field":"t"}}},
{"data":{"values":[{"u":21.11,"v":14.26,"t":"In situ PM 2.5 [ug/m"}]},"mark":{"type":"text","fontSize":35,"fontWeight":"bold","align":"right","baseline":"middle","font":"Liberation Sans","color":"black"},"encoding":{"text":{"field":"t"}}},
{"data":{"values":[{"u":21.19,"v":14.78,"t":"3"}]},"mark":{"type":"text","fontSize":27,"fontWeight":"bold","align":"left","baseline":"middle","font":"Liberation Sans","color":"black"},"encoding":{"text":{"field":"t"}}},
{"data":{"values":[{"u":21.74,"v":14.26,"t":"]"}]},"mark":{"type":"text","fontSize":35,"fontWeight":"bold","align":"left","baseline":"middle","font":"Liberation Sans","color":"black"},"encoding":{"text":{"field":"t"}}}
]}
]},
{"width":53,"height":804,"layer":[
{"data":{"name":"cbP"},"mark":{"type":"rect","y2Offset":-1},"encoding":{"y":{"field":"lo","type":"quantitative","scale":{"domain":[-0.629,16.238],"nice":false,"zero":false},"axis":{"orient":"right","values":[0,5,10,15],"domain":false,"grid":false,"title":null,"tickSize":-7,"tickColor":"#333333","labelPadding":19,"labelOffset":3,"labelFontSize":28,"labelColor":"#404040","labelFont":"Liberation Sans"}},"y2":{"field":"hi"},"color":{"field":"lo","type":"quantitative","legend":null,"scale":{"scheme":"redyellowblue","reverse":true,"domain":[0,15]}}}},
{"data":{"values":[{"lo":0,"hi":15}]},"mark":{"type":"rect","fill":null,"stroke":"#444444","strokeWidth":2},"encoding":{"y":{"field":"lo","type":"quantitative"},"y2":{"field":"hi"}}}
]}
]}
